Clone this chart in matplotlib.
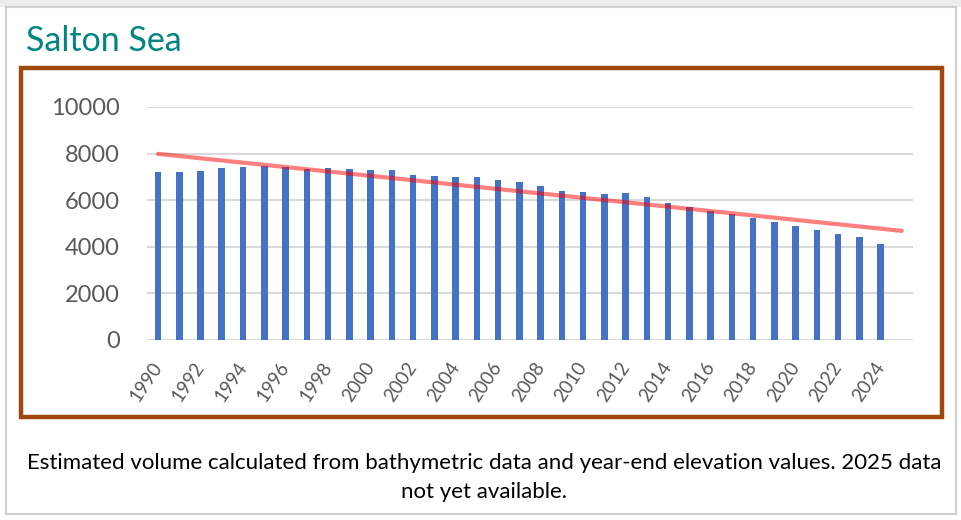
import numpy as np
import matplotlib.pyplot as plt
from matplotlib.patches import Rectangle

# Salton Sea estimated volume, 1990-2024
years = list(range(1990, 2025))
volume = [7200, 7200, 7260, 7380, 7410, 7480, 7440, 7350, 7390, 7350,
          7310, 7290, 7090, 7020, 6980, 7010, 6880, 6800, 6630, 6400,
          6360, 6260, 6290, 6130, 5860, 5700, 5520, 5420, 5220, 5060,
          4890, 4730, 4570, 4410, 4140]
yticks = [0, 2000, 4000, 6000, 8000, 10000]
caption = ("Estimated volume calculated from bathymetric data and year-end elevation values. 2025 data\n"
           "not yet available.")

plt.rcParams['font.family'] = ['Lato', 'DejaVu Sans']

W, H = 961, 520
fig = plt.figure(figsize=(W / 100, H / 100), dpi=100)

def px_rect(x0, y0, x1, y1, **kw):
    # rectangle given in image pixels (origin top-left)
    r = Rectangle((x0 / W, 1 - y1 / H), (x1 - x0) / W, (y1 - y0) / H,
                  transform=fig.transFigure, fill=False, **kw)
    fig.patches.append(r)

# outer slide frame and top strip
fig.patches.append(Rectangle((0, 1 - 7 / H), 1, 7 / H, transform=fig.transFigure,
                             color='#EDEDED', lw=0))
px_rect(6, 7, 956, 514, edgecolor='#CFCFCF', lw=1.5)
# brown chart border
px_rect(21, 68, 942, 417, edgecolor='#9E480E', lw=3.2)

fig.text(26 / W, 1 - 41 / H, 'Salton Sea', color='#00857F', fontsize=24.5,
         va='center', ha='left')

ax = fig.add_axes([147.4 / W, 1 - 340 / H, (912.5 - 147.4) / W, (340 - 107) / H])
x = np.arange(len(years))
ax.bar(x, volume, width=0.31, color='#4472C4', zorder=2)

# linear trendline, forecast forward one period
coef = np.polyfit(x, volume, 1)
xt = np.array([0, len(years)])
ax.plot(xt, np.polyval(coef, xt), color='#FF0000', alpha=0.5, lw=3, zorder=3,
        solid_capstyle='round')

ax.set_xlim(-0.5, len(years) + 0.5)
ax.set_ylim(0, 10000)
ax.set_yticks(yticks)
ax.set_yticklabels([str(v) for v in yticks])
ax.yaxis.grid(True, color='#D9D9D9', lw=1.5, zorder=0)
ax.set_axisbelow(True)
for s in ax.spines.values():
    s.set_visible(False)
ax.tick_params(axis='y', length=0, pad=20, labelsize=17, labelcolor='#595959')
ax.tick_params(axis='x', length=0, pad=17, labelsize=13.5, labelcolor='#595959')
ax.set_xticks(x[::2])
ax.set_xticklabels([str(y) for y in years[::2]], rotation=56, ha='right',
                   va='center', rotation_mode='anchor')

fig.text(484 / W, 1 - 477.5 / H, caption, ha='center', va='center', fontsize=16,
         color='#000000', linespacing=1.55)

fig.savefig('out.png', dpi=100)
